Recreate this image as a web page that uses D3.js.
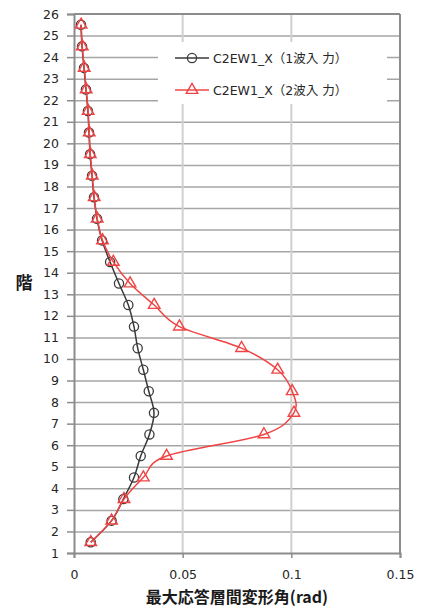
<!DOCTYPE html>
<html>
<head>
<meta charset="utf-8">
<script src="https://cdn.jsdelivr.net/npm/d3@7"></script>
<style>
  html, body { margin: 0; padding: 0; background: #fff; }
  svg { display: block; }
</style>
</head>
<body>
<svg id="chart" width="430" height="609"></svg>
<script>
// Storey levels (mid-height of each storey)
const floors = [1.5, 2.5, 3.5, 4.5, 5.5, 6.5, 7.5, 8.5, 9.5, 10.5, 11.5, 12.5, 13.5,
                14.5, 15.5, 16.5, 17.5, 18.5, 19.5, 20.5, 21.5, 22.5, 23.5, 24.5, 25.5];

// Maximum inter-storey drift angle (rad), single-wave input
const drift1 = [0.0077, 0.0173, 0.0227, 0.0276, 0.0307, 0.0347, 0.0368, 0.0344, 0.0319,
                0.0293, 0.0276, 0.0250, 0.0207, 0.0166, 0.0129, 0.0106, 0.0092, 0.0083,
                0.0074, 0.0069, 0.0064, 0.0055, 0.0046, 0.0037, 0.0032];

// Maximum inter-storey drift angle (rad), two-wave input
const drift2 = [0.0077, 0.0173, 0.0230, 0.0319, 0.0426, 0.0874, 0.1012, 0.1004, 0.0937,
                0.0771, 0.0485, 0.0369, 0.0258, 0.0181, 0.0131, 0.0107, 0.0093, 0.0084,
                0.0075, 0.0070, 0.0065, 0.0056, 0.0047, 0.0038, 0.0033];

const seriesNames = ["C2EW1_X（1波入 力）", "C2EW1_X（2波入 力）"];
const xTicks = [0, 0.05, 0.1, 0.15];
const yTicks = d3.range(1, 27);
const xTitle = "最大応答層間変形角(rad)";
const yTitle = "階";

const svg = d3.select("#chart");
const plotL = 74, plotR = 400, plotT = 14, plotB = 553;

const x = d3.scaleLinear().domain([0, 0.15]).range([plotL, plotR]);
const y = d3.scaleLinear().domain([1, 26]).range([plotB, plotT]);

const font = "'DejaVu Sans', Verdana, sans-serif";

// Horizontal grid lines
svg.append("g").selectAll("line").data(yTicks.slice(1, -1)).join("line")
  .attr("x1", plotL).attr("x2", plotR)
  .attr("y1", d => y(d) + 0.5).attr("y2", d => y(d) + 0.5)
  .attr("stroke", "#a6a6a6").attr("stroke-width", 1.5);

// Vertical grid lines
svg.append("g").selectAll("line").data(xTicks.slice(1, -1)).join("line")
  .attr("x1", d => x(d)).attr("x2", d => x(d))
  .attr("y1", plotT).attr("y2", plotB)
  .attr("stroke", "#d0d0d0").attr("stroke-width", 2);

// Frame: top and right edges
svg.append("line").attr("x1", plotL).attr("x2", plotR).attr("y1", plotT).attr("y2", plotT)
  .attr("stroke", "#8c8c8c").attr("stroke-width", 2);
svg.append("line").attr("x1", plotR).attr("x2", plotR).attr("y1", plotT).attr("y2", plotB)
  .attr("stroke", "#8c8c8c").attr("stroke-width", 2);

// Axes
const yAxis = svg.append("g").attr("transform", `translate(${plotL},0)`)
  .call(d3.axisLeft(y).tickValues(yTicks).tickSize(7).tickPadding(8).tickFormat(d3.format("d")));
const xAxis = svg.append("g").attr("transform", `translate(0,${plotB})`)
  .call(d3.axisBottom(x).tickValues(xTicks).tickSize(5).tickPadding(12).tickFormat(d => String(d)));

[xAxis, yAxis].forEach(a => {
  a.select(".domain").attr("stroke", "#8c8c8c").attr("stroke-width", 2);
  a.selectAll(".tick line").attr("stroke", "#8c8c8c").attr("stroke-width", 1.5);
  a.selectAll("text").attr("fill", "#262626").style("font-family", font).style("font-size", "12.5px");
});

// Legend box (covers the grid)
svg.append("rect").attr("x", 158).attr("y", 42).attr("width", 229).attr("height", 62)
  .attr("fill", "#fff");

const colors = ["#3a3a3a", "#f04444"];
const curve = d3.curveCardinal.tension(0);

const line = d3.line()
  .x(d => x(d[0]))
  .y(d => y(d[1]))
  .curve(curve);

const datasets = [drift1, drift2].map(arr => arr.map((v, i) => [v, floors[i]]));

const triangle = d3.symbol().type(d3.symbolTriangle).size(58);

datasets.forEach((data, k) => {
  const g = svg.append("g");
  g.append("path").datum(data).attr("d", line)
    .attr("fill", "none").attr("stroke", colors[k]).attr("stroke-width", 1.5);
  if (k === 0) {
    g.selectAll("circle").data(data).join("circle")
      .attr("cx", d => x(d[0])).attr("cy", d => y(d[1])).attr("r", 4.6)
      .attr("fill", "none").attr("stroke", colors[k]).attr("stroke-width", 1.3);
  } else {
    g.selectAll("path.m").data(data).join("path").attr("class", "m")
      .attr("d", triangle)
      .attr("transform", d => `translate(${x(d[0])},${y(d[1])})`)
      .attr("fill", "none").attr("stroke", colors[k]).attr("stroke-width", 1.4);
  }
});

// Legend entries
const legend = svg.append("g");
seriesNames.forEach((name, k) => {
  const ly = 58 + k * 32;
  legend.append("line").attr("x1", 175).attr("x2", 209).attr("y1", ly).attr("y2", ly)
    .attr("stroke", colors[k]).attr("stroke-width", 1.5);
  if (k === 0) {
    legend.append("circle").attr("cx", 192).attr("cy", ly).attr("r", 4.6)
      .attr("fill", "none").attr("stroke", colors[k]).attr("stroke-width", 1.3);
  } else {
    legend.append("path").attr("d", triangle).attr("transform", `translate(192,${ly})`)
      .attr("fill", "none").attr("stroke", colors[k]).attr("stroke-width", 1.4);
  }
  legend.append("text").attr("x", 213).attr("y", ly + 4.5)
    .attr("fill", "#262626")
    .style("font-family", "'DejaVu Sans', 'Noto Sans CJK JP', sans-serif").style("font-size", "12.5px")
    .text(name);
});

// Axis titles
svg.append("text").attr("x", 237).attr("y", 603).attr("text-anchor", "middle")
  .attr("fill", "#1a1a1a").style("font-family", "'Noto Sans CJK JP', sans-serif")
  .style("font-size", "16px").style("font-weight", "bold").text(xTitle);
svg.append("text").attr("x", 24).attr("y", 289).attr("text-anchor", "middle")
  .attr("fill", "#1a1a1a").style("font-family", "'Noto Sans CJK JP', sans-serif")
  .style("font-size", "17px").style("font-weight", "bold").text(yTitle);
</script>
</body>
</html>
